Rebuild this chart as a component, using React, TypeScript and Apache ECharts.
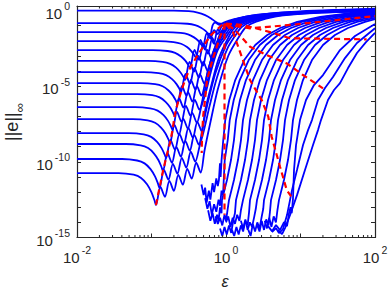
import React, { useEffect, useRef } from "react";
import * as echarts from "echarts";

// Axis extents in log10 units
const xMinLog = -2;
const xMaxLog = 2;
const yMinLog = -15;
const yMaxLog = 0.304;
const xTickLabels = [-2, 0, 2];
const yTickLabels = [-15, -10, -5, 0];
const minorMultipliers = [2, 3, 4, 5, 6, 7, 8, 9];
const minorDecades = [-2, -1, 0, 1];

// Curves: [log10(epsilon), log10(||e||_inf)]
const blueA0 = [[-2,0],[-0.7,0],[-0.5,-0.04],[-0.38,-0.13],[-0.28,-0.3],[-0.2,-0.52],[-0.14,-0.74],[-0.1,-0.84],[-0.04,-0.86],[0.02,-0.78],[0.1,-0.62],[0.3,-0.36],[0.6,-0.18],[1.0,-0.05],[1.5,0.05],[2.0,0.13]];
const blueA1 = [[-2,-0.83],[-0.715,-0.83],[-0.515,-0.87],[-0.415,-0.96],[-0.335,-1.13],[-0.275,-1.34],[-0.235,-1.55],[-0.215,-1.68],[-0.18,-0.98],[-0.145,-0.8],[-0.085,-0.95],[-0.03,-0.8],[0.1,-0.58],[0.35,-0.33],[0.7,-0.15],[1.2,-0.03],[2.0,0.09]];
const blueA2 = [[-2,-1.42],[-0.809,-1.42],[-0.609,-1.47],[-0.509,-1.57],[-0.429,-1.77],[-0.369,-2.01],[-0.329,-2.26],[-0.309,-2.41],[-0.259,-1.5],[-0.209,-1.85],[-0.159,-1.3],[-0.11,-1.55],[-0.06,-1.05],[-0.02,-0.95],[0.1,-0.62],[0.35,-0.36],[0.75,-0.17],[1.25,-0.05],[2.0,0.06]];
const blueA3 = [[-2,-2.02],[-0.903,-2.02],[-0.703,-2.08],[-0.603,-2.19],[-0.523,-2.41],[-0.463,-2.69],[-0.423,-2.96],[-0.403,-3.13],[-0.343,-1.93],[-0.283,-2.58],[-0.223,-1.53],[-0.163,-2.18],[-0.11,-1.25],[-0.06,-1.5],[0.02,-0.98],[0.12,-0.66],[0.36,-0.37],[0.76,-0.18],[1.26,-0.06],[2.0,0.05]];
const blueA4 = [[-2,-2.61],[-0.983,-2.61],[-0.783,-2.67],[-0.683,-2.79],[-0.603,-3.03],[-0.543,-3.32],[-0.503,-3.62],[-0.483,-3.8],[-0.423,-2.6],[-0.363,-3.25],[-0.303,-2.2],[-0.243,-2.85],[-0.183,-1.8],[-0.123,-2.45],[-0.07,-1.5],[-0.02,-1.1],[0.1,-0.67],[0.36,-0.38],[0.76,-0.18],[1.26,-0.06],[2.0,0.05]];
const blueA5 = [[-2,-3.33],[-1.05,-3.33],[-0.85,-3.39],[-0.75,-3.52],[-0.67,-3.77],[-0.61,-4.09],[-0.57,-4.4],[-0.55,-4.59],[-0.49,-3.39],[-0.43,-4.04],[-0.37,-2.99],[-0.31,-3.64],[-0.25,-2.59],[-0.19,-3.24],[-0.13,-2.3],[-0.085,-1.61],[-0.005,-1.08],[0.13,-0.69],[0.385,-0.37],[0.8,-0.17],[1.3,-0.05],[2.0,0.06]];
const blueA6 = [[-2,-4.07],[-1.104,-4.07],[-0.904,-4.14],[-0.804,-4.27],[-0.724,-4.53],[-0.664,-4.86],[-0.624,-5.18],[-0.604,-5.38],[-0.544,-4.18],[-0.484,-4.83],[-0.424,-3.78],[-0.364,-4.43],[-0.304,-3.38],[-0.244,-4.03],[-0.19,-3.0],[-0.13,-2.2],[-0.077,-1.61],[0.003,-1.08],[0.138,-0.7],[0.393,-0.37],[0.82,-0.16],[1.3,-0.04],[2.0,0.07]];
const blueA7 = [[-2,-4.79],[-1.151,-4.79],[-0.951,-4.86],[-0.851,-5.0],[-0.771,-5.28],[-0.711,-5.62],[-0.671,-5.97],[-0.651,-6.18],[-0.591,-4.98],[-0.531,-5.63],[-0.471,-4.58],[-0.411,-5.23],[-0.351,-4.18],[-0.291,-4.83],[-0.24,-3.9],[-0.17,-2.8],[-0.1,-1.9],[-0.06,-1.61],[0.02,-1.08],[0.155,-0.7],[0.41,-0.37],[0.84,-0.16],[1.32,-0.05],[2.0,0.04]];
const blueA8 = [[-2,-5.52],[-1.191,-5.52],[-0.991,-5.59],[-0.891,-5.74],[-0.811,-6.03],[-0.751,-6.39],[-0.711,-6.75],[-0.691,-6.97],[-0.631,-5.77],[-0.571,-6.42],[-0.511,-5.37],[-0.451,-6.02],[-0.391,-4.97],[-0.331,-5.62],[-0.27,-4.57],[-0.22,-3.6],[-0.15,-2.5],[-0.04,-1.61],[0.04,-1.08],[0.175,-0.7],[0.43,-0.37],[0.86,-0.16],[1.35,-0.05],[2.0,0.03]];
const blueA9 = [[-2,-6.38],[-1.218,-6.38],[-1.018,-6.46],[-0.918,-6.61],[-0.838,-6.91],[-0.778,-7.29],[-0.738,-7.67],[-0.718,-7.9],[-0.658,-6.7],[-0.598,-7.35],[-0.538,-6.3],[-0.478,-6.95],[-0.418,-5.9],[-0.358,-6.55],[-0.298,-5.5],[-0.24,-4.5],[-0.17,-3.2],[-0.09,-2.2],[-0.01,-1.61],[0.07,-1.08],[0.205,-0.71],[0.46,-0.38],[0.9,-0.17],[1.4,-0.06],[2.0,0.02]];
const blueA10 = [[-2,-7.17],[-1.252,-7.17],[-1.052,-7.25],[-0.952,-7.41],[-0.872,-7.73],[-0.812,-8.12],[-0.772,-8.52],[-0.752,-8.76],[-0.692,-7.56],[-0.632,-8.21],[-0.572,-7.16],[-0.512,-7.81],[-0.452,-6.76],[-0.392,-7.41],[-0.332,-6.36],[-0.27,-5.4],[-0.2,-4.0],[-0.11,-2.6],[0.02,-1.61],[0.1,-1.08],[0.235,-0.71],[0.49,-0.38],[0.93,-0.17],[1.42,-0.06],[2.0,0.01]];
const blueA11 = [[-2,-8.1],[-1.305,-8.1],[-1.105,-8.18],[-1.005,-8.35],[-0.925,-8.68],[-0.865,-9.09],[-0.825,-9.5],[-0.805,-9.75],[-0.745,-8.55],[-0.685,-9.2],[-0.625,-8.15],[-0.565,-8.8],[-0.505,-7.75],[-0.445,-8.4],[-0.385,-7.35],[-0.325,-8.0],[-0.28,-6.6],[-0.2,-5.0],[-0.1,-3.2],[0.05,-1.61],[0.13,-1.08],[0.265,-0.72],[0.52,-0.39],[0.96,-0.18],[1.45,-0.07],[2.0,0.0]];
const blueA12 = [[-2,-8.82],[-1.346,-8.82],[-1.146,-8.91],[-1.046,-9.09],[-0.966,-9.45],[-0.906,-9.89],[-0.866,-10.34],[-0.846,-10.61],[-0.786,-9.41],[-0.726,-10.06],[-0.666,-9.01],[-0.606,-9.66],[-0.546,-8.61],[-0.486,-9.26],[-0.426,-8.21],[-0.366,-8.86],[-0.31,-7.6],[-0.24,-6.0],[-0.14,-4.1],[0.0,-2.3],[0.09,-1.61],[0.17,-1.08],[0.305,-0.72],[0.56,-0.39],[1.0,-0.18],[1.5,-0.07],[2.0,-0.01]];
const blueA13 = [[-2,-9.81],[-1.393,-9.81],[-1.193,-9.91],[-1.093,-10.1],[-1.013,-10.48],[-0.953,-10.96],[-0.913,-11.44],[-0.893,-11.73],[-0.833,-10.53],[-0.773,-11.18],[-0.713,-10.13],[-0.653,-10.78],[-0.593,-9.73],[-0.533,-10.38],[-0.473,-9.33],[-0.413,-9.98],[-0.353,-8.93],[-0.3,-8.0],[-0.22,-6.3],[-0.12,-4.4],[0.02,-2.5],[0.13,-1.61],[0.21,-1.08],[0.345,-0.73],[0.6,-0.4],[1.05,-0.19],[1.55,-0.08],[2.0,-0.02]];
const blueA14 = [[-2,-10.74],[-1.44,-10.74],[-1.24,-10.85],[-1.14,-11.06],[-1.06,-11.48],[-1.0,-12.01],[-0.96,-12.54],[-0.94,-12.86],[-0.88,-11.66],[-0.82,-12.31],[-0.76,-11.26],[-0.7,-11.91],[-0.64,-10.86],[-0.58,-11.51],[-0.52,-10.46],[-0.46,-11.11],[-0.4,-10.06],[-0.34,-10.71],[-0.29,-9.3],[-0.21,-7.4],[-0.11,-5.2],[0.03,-3.0],[0.19,-1.61],[0.27,-1.08],[0.405,-0.73],[0.66,-0.4],[1.1,-0.19],[1.6,-0.08],[2.0,-0.03]];

const blueB0 = [[-0.33,-11.5],[-0.3,-12.2],[-0.28,-11.7],[-0.26,-12.7],[-0.23,-11.9],[-0.21,-12.5],[-0.18,-11.4],[-0.16,-12.0],[-0.13,-11.1],[-0.11,-11.6],[-0.095,-11.2],[-0.081,-10.1],[-0.072,-11.0],[-0.06,-9.9],[-0.037,-8.56],[-0.01,-7.24],[0.044,-5.91],[0.124,-4.59],[0.245,-3.27],[0.393,-2.27],[0.554,-1.61],[0.728,-1.15],[0.956,-0.75],[1.265,-0.42],[1.668,-0.16],[2.0,-0.02]];
const blueB1 = [[-0.28,-12.4],[-0.25,-13.1],[-0.22,-12.6],[-0.19,-13.5],[-0.16,-12.8],[-0.13,-13.3],[-0.1,-12.5],[-0.08,-12.9],[-0.06,-11.9],[-0.04,-12.2],[-0.017,-9.88],[0.023,-8.56],[0.05,-7.24],[0.104,-5.91],[0.184,-4.59],[0.305,-3.27],[0.453,-2.27],[0.614,-1.61],[0.788,-1.15],[1.016,-0.75],[1.325,-0.42],[1.728,-0.16],[2.0,-0.05]];
const blueB2 = [[-0.24,-13.2],[-0.21,-13.9],[-0.18,-13.4],[-0.15,-14.1],[-0.12,-13.5],[-0.1,-13.9],[-0.08,-13.0],[-0.06,-13.4],[-0.054,-12.53],[0.013,-11.2],[0.067,-9.88],[0.107,-8.56],[0.134,-7.24],[0.188,-5.91],[0.268,-4.59],[0.389,-3.27],[0.537,-2.27],[0.698,-1.61],[0.872,-1.15],[1.1,-0.75],[1.409,-0.42],[1.812,-0.16],[2.0,-0.08]];
const blueB3 = [[-0.14,-13.6],[-0.11,-14.1],[-0.08,-13.7],[-0.05,-14.2],[-0.02,-13.5],[0.0,-13.9],[0.02,-13.2],[0.04,-12.53],[0.107,-11.2],[0.161,-9.88],[0.201,-8.56],[0.228,-7.24],[0.282,-5.91],[0.362,-4.59],[0.483,-3.27],[0.631,-2.27],[0.792,-1.61],[0.966,-1.15],[1.194,-0.75],[1.503,-0.42],[1.906,-0.16],[2.0,-0.12]];
const blueB4 = [[-0.08,-14.4],[-0.05,-14.9],[-0.02,-14.3],[0.01,-14.8],[0.04,-14.2],[0.07,-14.7],[0.1,-13.8],[0.12,-13.4],[0.134,-12.53],[0.201,-11.2],[0.255,-9.88],[0.295,-8.56],[0.322,-7.24],[0.376,-5.91],[0.456,-4.59],[0.577,-3.27],[0.725,-2.27],[0.886,-1.61],[1.06,-1.15],[1.288,-0.75],[1.597,-0.42],[2.0,-0.16]];
const blueB5 = [[0.0,-14.0],[0.03,-13.6],[0.06,-14.3],[0.09,-13.7],[0.12,-14.1],[0.15,-13.5],[0.18,-13.9],[0.2,-13.2],[0.228,-12.53],[0.295,-11.2],[0.349,-9.88],[0.389,-8.56],[0.416,-7.24],[0.47,-5.91],[0.55,-4.59],[0.671,-3.27],[0.819,-2.27],[0.98,-1.61],[1.154,-1.15],[1.382,-0.75],[1.691,-0.42],[2.0,-0.22]];
const blueB6 = [[0.08,-14.5],[0.11,-14.9],[0.14,-14.3],[0.17,-14.8],[0.2,-14.2],[0.23,-14.6],[0.26,-13.9],[0.29,-14.2],[0.31,-13.3],[0.322,-12.53],[0.389,-11.2],[0.443,-9.88],[0.483,-8.56],[0.51,-7.24],[0.564,-5.91],[0.644,-4.59],[0.765,-3.27],[0.913,-2.27],[1.074,-1.61],[1.248,-1.15],[1.476,-0.75],[1.785,-0.42],[2.0,-0.28]];
const blueB7 = [[0.2,-13.9],[0.23,-14.4],[0.26,-13.8],[0.29,-14.5],[0.32,-14.0],[0.35,-14.3],[0.38,-13.6],[0.4,-13.1],[0.416,-12.53],[0.483,-11.2],[0.537,-9.88],[0.577,-8.56],[0.604,-7.24],[0.658,-5.91],[0.738,-4.59],[0.859,-3.27],[1.007,-2.27],[1.168,-1.61],[1.342,-1.15],[1.57,-0.75],[1.879,-0.42],[2.0,-0.34]];
const blueB8 = [[0.3,-14.5],[0.33,-14.9],[0.36,-14.1],[0.39,-14.6],[0.42,-14.0],[0.45,-14.4],[0.48,-13.6],[0.5,-13.1],[0.51,-12.53],[0.577,-11.2],[0.631,-9.88],[0.671,-8.56],[0.698,-7.24],[0.752,-5.91],[0.832,-4.59],[0.953,-3.27],[1.101,-2.27],[1.262,-1.61],[1.436,-1.15],[1.664,-0.75],[1.973,-0.42],[2.0,-0.41]];
const blueB9 = [[0.42,-14.2],[0.45,-14.6],[0.48,-13.9],[0.51,-14.5],[0.54,-13.8],[0.57,-14.2],[0.59,-13.3],[0.604,-12.53],[0.671,-11.2],[0.725,-9.88],[0.765,-8.56],[0.792,-7.24],[0.846,-5.91],[0.926,-4.59],[1.047,-3.27],[1.195,-2.27],[1.356,-1.61],[1.53,-1.15],[1.758,-0.75],[2.0,-0.48]];
const blueB10 = [[0.52,-13.9],[0.55,-14.4],[0.58,-13.7],[0.61,-14.3],[0.64,-13.6],[0.67,-14.0],[0.69,-13.2],[0.711,-12.53],[0.778,-11.2],[0.832,-9.88],[0.872,-8.56],[0.899,-7.24],[0.953,-5.91],[1.033,-4.59],[1.154,-3.27],[1.302,-2.27],[1.463,-1.61],[1.637,-1.15],[1.865,-0.75],[2.0,-0.57]];
const blueC1 = [[0.564,-14.25],[0.617,-14.58],[0.671,-14.18],[0.725,-14.51],[0.779,-13.98],[0.819,-14.25],[0.846,-13.39],[0.866,-12.99],[0.882,-13.39],[0.899,-12.46],[0.913,-10.54],[0.94,-8.89],[0.993,-7.24],[1.074,-5.91],[1.181,-4.92],[1.302,-4.26],[1.53,-2.61],[1.732,-1.68],[2.0,-0.89]];
const blueC2 = [[0.617,-14.64],[0.671,-14.38],[0.711,-14.71],[0.765,-14.44],[0.819,-13.52],[0.886,-11.87],[0.953,-10.54],[1.034,-8.89],[1.101,-7.9],[1.154,-7.24],[1.235,-5.91],[1.329,-5.12],[1.436,-4.39],[1.597,-3.14],[1.758,-2.14],[2.0,-1.17]];
const blueC3 = [[0.698,-14.51],[0.752,-14.78],[0.792,-14.38],[0.859,-13.52],[0.953,-12.2],[1.06,-10.54],[1.168,-8.89],[1.235,-7.9],[1.275,-7.24],[1.369,-5.91],[1.45,-5.25],[1.53,-4.79],[1.638,-3.8],[1.758,-2.8],[1.879,-2.08],[2.0,-1.48]];

const red1 = [[-0.94,-12.86],[-0.893,-11.73],[-0.846,-10.61],[-0.805,-9.75],[-0.752,-8.76],[-0.718,-7.9],[-0.691,-6.97],[-0.651,-6.18],[-0.604,-5.38],[-0.55,-4.59],[-0.483,-3.8],[-0.403,-3.13],[-0.309,-2.41],[-0.215,-1.68],[-0.03,-0.84]];
const red2 = [[-0.01,-0.88],[-0.081,-1.75],[-0.161,-2.94],[-0.201,-3.6],[-0.255,-4.59],[-0.282,-5.91],[-0.305,-6.9],[-0.322,-8.23],[-0.326,-9.42]];
const red3 = [[-0.02,-0.86],[-0.02,-13.5]];
const red4 = [[-0.01,-0.9],[0.32,-1.17],[0.86,-0.95],[1.4,-0.67],[2.0,-0.36]];
const red5 = [[0.0,-0.86],[0.228,-0.95],[0.591,-1.42],[0.859,-1.83],[1.888,-1.9]];
const red6 = [[0.03,-0.95],[0.121,-1.28],[0.322,-2.39],[0.546,-2.94],[0.815,-3.49],[1.034,-4.26],[1.302,-5.14]];
const red7 = [[0.0,-0.9],[0.094,-1.42],[0.322,-4.59],[0.479,-5.91],[0.568,-7.02],[0.613,-8.34],[0.725,-10.32],[0.815,-11.86],[0.899,-12.46]];

const FONT = '"Liberation Sans", Arial, Helvetica, sans-serif';
const AXIS_COLOR = "#262626";

export default function App() {
  const ref = useRef<HTMLDivElement>(null);
  useEffect(() => {
    if (!ref.current) return;
    const chart = echarts.init(ref.current, null, { renderer: "svg" });
    const familyA = [blueA0, blueA1, blueA2, blueA3, blueA4, blueA5, blueA6, blueA7, blueA8, blueA9, blueA10, blueA11, blueA12, blueA13, blueA14];
    const familyB = [blueB0, blueB1, blueB2, blueB3, blueB4, blueB5, blueB6, blueB7, blueB8, blueB9, blueB10, blueC1, blueC2, blueC3];
    const redCurves = [red1, red2, red3, red4, red5, red6, red7];
    const minorTicks: number[][] = [];
    for (const d of minorDecades) for (const k of minorMultipliers) minorTicks.push([d + Math.log10(k), yMinLog]);

    const supRich = {
      b: { fontSize: 15, fontFamily: FONT, color: AXIS_COLOR, verticalAlign: "bottom", lineHeight: 17 },
      s: { fontSize: 10.5, fontFamily: FONT, color: AXIS_COLOR, verticalAlign: "bottom", padding: [0, 0, 9, 2] },
    };
    const isInt = (v: number) => Math.abs(v - Math.round(v)) < 1e-9;
    const axisLine = { show: true, onZero: false, lineStyle: { color: AXIS_COLOR, width: 1.2 } };
    const axisTick = { show: true, inside: true, length: 4, lineStyle: { color: AXIS_COLOR, width: 1 } };
    const blue = (d: number[][], smooth: number) => ({
      type: "line", data: d, symbol: "none", showSymbol: false, silent: true, clip: true, z: 2, smooth,
      lineStyle: { color: "#0000ff", width: 1.8 },
    });

    const option: any = {
      animation: false,
      backgroundColor: "#ffffff",
      grid: { left: 77, top: 6, width: 298, height: 231.5 },
      xAxis: [
        {
          type: "value", min: xMinLog, max: xMaxLog, interval: 1, position: "bottom",
          axisLine, axisTick, splitLine: { show: false },
          axisLabel: {
            margin: 7,
            formatter: (v: number) => (isInt(v) && xTickLabels.includes(Math.round(v)) ? `{b|10}{s|${Math.round(v)}}` : ""),
            rich: supRich,
          },
        },
        {
          type: "value", min: xMinLog, max: xMaxLog, interval: 1, position: "top",
          axisLine, axisTick, splitLine: { show: false }, axisLabel: { show: false },
        },
      ],
      yAxis: [
        {
          type: "value", min: yMinLog, max: yMaxLog, interval: 1, position: "left",
          axisLine, axisTick, splitLine: { show: false },
          axisLabel: {
            margin: 7,
            formatter: (v: number) => (isInt(v) && yTickLabels.includes(Math.round(v)) ? `{b|10}{s|${Math.round(v)}}` : ""),
            rich: supRich,
          },
        },
        {
          type: "value", min: yMinLog, max: yMaxLog, interval: 1, position: "right",
          axisLine, axisTick, splitLine: { show: false }, axisLabel: { show: false },
        },
      ],
      graphic: [
        {
          type: "text", x: 225, y: 281, z: 100,
          style: { text: "ε", font: `italic 16px ${FONT}`, fill: AXIS_COLOR, align: "center", verticalAlign: "middle" },
        },
        {
          type: "text", x: 14, y: 122, rotation: Math.PI / 2, z: 100,
          style: {
            text: "{n|||e||}{s|∞}", align: "center", verticalAlign: "middle", fill: AXIS_COLOR,
            rich: {
              n: { fontSize: 18, fontFamily: FONT, fill: AXIS_COLOR, verticalAlign: "bottom", padding: [0, 0, 5, 0] },
              s: { fontSize: 13, fontFamily: FONT, fill: AXIS_COLOR, verticalAlign: "bottom" },
            },
          },
        },
      ],
      series: [
        ...familyA.map((d) => blue(d, 0.3)),
        ...familyB.map((d) => blue(d, 0)),
        ...redCurves.map((d) => ({
          type: "line", data: d, symbol: "none", showSymbol: false, silent: true, clip: true, z: 3,
          lineStyle: { color: "#ff0000", width: 2.2, type: [6, 4] },
        })),
        {
          type: "custom", data: minorTicks, silent: true, clip: false, z: 5,
          renderItem: (_p: any, api: any) => {
            const x = api.value(0);
            const pb = api.coord([x, yMinLog]);
            const pt = api.coord([x, yMaxLog]);
            const style = { stroke: AXIS_COLOR, lineWidth: 1 };
            return {
              type: "group",
              children: [
                { type: "line", shape: { x1: pb[0], y1: pb[1], x2: pb[0], y2: pb[1] - 2.5 }, style },
                { type: "line", shape: { x1: pt[0], y1: pt[1], x2: pt[0], y2: pt[1] + 2.5 }, style },
              ],
            };
          },
        },
      ],
    };
    chart.setOption(option);
    return () => chart.dispose();
  }, []);
  return <div ref={ref} style={{ position: "absolute", left: 0, top: 0, width: 391, height: 290, background: "#fff" }} />;
}
